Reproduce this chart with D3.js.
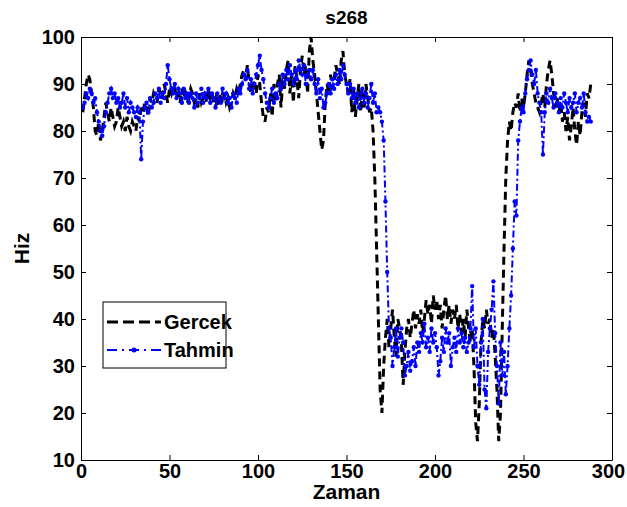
<!DOCTYPE html>
<html><head><meta charset="utf-8">
<script src="https://cdn.jsdelivr.net/npm/d3@7/dist/d3.min.js"></script>
<style>body{margin:0;background:#fff}svg{display:block}text{font-family:"Liberation Sans",Arial,sans-serif;font-weight:bold}</style>
</head><body><svg id="c" width="627" height="507"></svg>
<script>
const title = "s268";
const xLabel = "Zaman";
const yLabel = "Hiz";
const seriesNames = ["Gercek", "Tahmin"];
const xTicks = [0, 50, 100, 150, 200, 250, 300];
const yTicks = [10, 20, 30, 40, 50, 60, 70, 80, 90, 100];

const gercek = [
84,87,90,92,91,88,85,80,79,82,
78,80,83,86,84,82,85,83,81,82,
85,83,81,82,80,83,81,80,82,81,
80,83,82,85,84,86,85,83,87,86,
88,87,86,89,88,87,90,88,86,89,
88,90,89,87,88,86,89,87,88,86,
87,89,88,86,87,85,88,86,87,88,
86,89,87,88,86,87,85,88,87,86,
88,86,87,85,86,88,87,89,88,90,
92,93,91,94,90,88,91,89,88,92,
90,86,83,82,85,84,88,83,90,86,
90,92,85,91,89,93,95,88,92,86,
94,91,87,93,96,92,94,88,97,100,
95,92,88,84,80,76,78,86,90,88,
92,89,91,94,92,90,95,97,92,90,
88,91,84,89,83,87,90,84,88,85,
90,87,84,85,80,70,55,40,25,20,
30,36,40,34,38,42,36,32,40,38,
35,26,33,38,40,36,39,42,38,41,
39,42,37,40,44,41,43,39,45,42,
44,40,43,38,42,45,40,43,39,42,
40,43,38,41,37,40,36,42,38,35,
38,30,18,14,22,35,40,38,42,39,
40,36,38,32,25,14,20,38,55,70,
78,82,80,84,86,85,88,84,87,85,
88,92,95,93,90,88,86,85,84,86,
88,85,90,93,95,92,88,85,87,84,
86,82,84,80,83,78,81,85,80,77,
82,79,84,86,83,88,87,90];

const tahmin = [
85,86,88,87,89,88,86,87,84,82,
80,79,81,84,86,88,89,87,88,86,
87,85,86,88,85,87,84,86,85,84,
83,85,84,74,82,85,86,84,87,85,
86,88,87,89,86,88,87,90,94,91,
89,88,90,87,89,88,86,89,87,88,
86,88,87,85,88,86,87,89,86,88,
87,89,86,88,87,85,88,87,86,89,
87,88,86,87,85,88,87,86,89,88,
90,92,91,93,89,91,88,90,92,94,
96,93,91,88,86,85,87,89,86,88,
87,90,89,92,90,93,91,94,92,90,
93,91,95,93,92,94,90,92,93,91,
93,90,88,91,87,89,85,86,88,90,
88,91,89,92,90,93,91,94,92,90,
88,90,87,89,86,88,85,87,89,86,
88,85,87,90,86,88,84,85,84,82,
78,65,50,38,36,30,34,38,32,36,
38,35,28,30,33,29,31,34,30,35,
33,37,35,39,34,36,33,38,35,37,
34,28,31,36,33,38,35,37,30,34,
36,33,38,35,37,34,36,33,35,38,
47,34,38,30,26,35,40,25,21,33,
38,42,48,37,30,22,35,28,33,24,
30,38,45,55,65,62,78,82,85,84,
88,91,93,95,92,90,93,88,86,84,
75,84,88,86,89,87,85,88,86,84,
87,85,88,86,84,87,85,86,88,84,
86,87,85,88,84,82,83,82];

const L = 81, R = 612, T = 37, B = 460;
const svg = d3.select("#c");
const x = d3.scaleLinear().domain([0, 300]).range([L, R]);
const y = d3.scaleLinear().domain([10, 100]).range([B, T]);

svg.append("rect").attr("x", L).attr("y", T).attr("width", R - L).attr("height", B - T).attr("fill", "#fff");

svg.append("clipPath").attr("id", "clp").append("rect")
  .attr("x", L).attr("y", T - 2).attr("width", R - L).attr("height", B - T + 4);

const line = d3.line().x((d, i) => x(i + 1)).y(d => y(d));
const plot = svg.append("g").attr("clip-path", "url(#clp)");

plot.append("path").datum(gercek).attr("d", line).attr("fill", "none")
  .attr("stroke", "#000").attr("stroke-width", 3).attr("stroke-dasharray", "8,5");

plot.append("path").datum(tahmin).attr("d", line).attr("fill", "none")
  .attr("stroke", "#0000ff").attr("stroke-width", 2).attr("stroke-dasharray", "7,3,2,3");
plot.selectAll("circle.m").data(tahmin).enter().append("circle").attr("class", "m")
  .attr("cx", (d, i) => x(i + 1)).attr("cy", d => y(d)).attr("r", 2.2).attr("fill", "#0000ff");

function styleAxis(g) {
  g.selectAll("path.domain").attr("stroke", "#000").attr("stroke-width", 1);
  g.selectAll(".tick line").attr("stroke", "#000");
  g.selectAll(".tick text").attr("font-size", 20).attr("font-weight", "bold")
    .attr("font-family", '"Liberation Sans",Arial,sans-serif').attr("fill", "#000");
}
const ax1 = svg.append("g").attr("transform", `translate(0,${B})`)
  .call(d3.axisBottom(x).tickValues(xTicks).tickSizeInner(-5).tickSizeOuter(0).tickPadding(4));
styleAxis(ax1);
ax1.selectAll(".tick text").filter(d => d === 300).attr("dx", -4);
const ax2 = svg.append("g").attr("transform", `translate(${L},0)`)
  .call(d3.axisLeft(y).tickValues(yTicks).tickSizeInner(-5).tickSizeOuter(0).tickPadding(6));
styleAxis(ax2);
const ax3 = svg.append("g").attr("transform", `translate(0,${T})`)
  .call(d3.axisTop(x).tickValues(xTicks).tickSizeInner(-5).tickSizeOuter(0).tickFormat(""));
styleAxis(ax3);
const ax4 = svg.append("g").attr("transform", `translate(${R},0)`)
  .call(d3.axisRight(y).tickValues(yTicks).tickSizeInner(-5).tickSizeOuter(0).tickFormat(""));
styleAxis(ax4);

svg.append("text").attr("x", (L + R) / 2).attr("y", 24).attr("text-anchor", "middle")
  .attr("font-size", 19).text(title);
svg.append("text").attr("x", (L + R) / 2).attr("y", 499).attr("text-anchor", "middle")
  .attr("font-size", 21).text(xLabel);
svg.append("text").attr("transform", `translate(29,${(T + B) / 2}) rotate(-90)`)
  .attr("text-anchor", "middle").attr("font-size", 21).text(yLabel);

const lg = svg.append("g");
lg.append("rect").attr("x", 103).attr("y", 302).attr("width", 123).attr("height", 66)
  .attr("fill", "#fff").attr("stroke", "#000").attr("stroke-width", 1);
lg.append("line").attr("x1", 107).attr("x2", 161).attr("y1", 322).attr("y2", 322)
  .attr("stroke", "#000").attr("stroke-width", 3).attr("stroke-dasharray", "11,5");
lg.append("line").attr("x1", 107).attr("x2", 161).attr("y1", 350).attr("y2", 350)
  .attr("stroke", "#0000ff").attr("stroke-width", 2).attr("stroke-dasharray", "10,5,2,5");
lg.append("circle").attr("cx", 134).attr("cy", 350).attr("r", 2.5).attr("fill", "#0000ff");
lg.append("text").attr("x", 164).attr("y", 329).attr("font-size", 20).text(seriesNames[0]);
lg.append("text").attr("x", 164).attr("y", 357).attr("font-size", 20).text(seriesNames[1]);
</script></body></html>
